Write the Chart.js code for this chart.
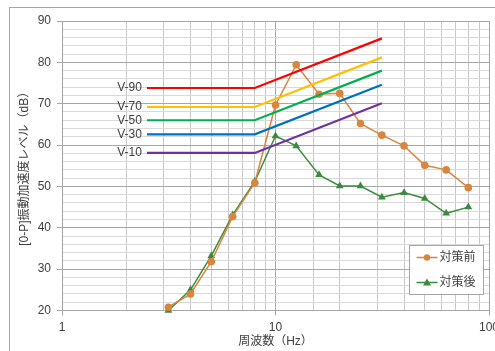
<!DOCTYPE html>
<html>
<head>
<meta charset="utf-8">
<script src="https://cdn.jsdelivr.net/npm/chart.js@4/dist/chart.umd.min.js"></script>
<style>
html, body { margin: 0; padding: 0; background: #fff; overflow: hidden; }
#wrap { position: relative; width: 495px; height: 351px; }
</style>
</head>
<body>
<div id="wrap"><canvas id="vibChart" width="495" height="351"></canvas></div>
<script>
// 1/3 octave band centre frequencies (Hz)
const freqs = [3.15, 4, 5, 6.3, 8, 10, 12.5, 16, 20, 25, 31.5, 40, 50, 63, 80];

// measured levels (dB)
const before = [20.8, 24.0, 31.8, 42.7, 50.9, 69.7, 79.4, 72.3, 72.5, 65.2, 62.4, 59.8, 55.1, 54.0, 49.7];
const after  = [20.0, 25.0, 33.2, 43.1, 51.2, 62.2, 59.8, 52.8, 50.1, 50.1, 47.4, 48.5, 47.1, 43.5, 45.0];

// evaluation curves: flat up to 8 Hz, then rising to 31.5 Hz
const curveFreqs = [2.5, 8, 31.5];
const curveNames = ["V-90", "V-70", "V-50", "V-30", "V-10"];
const curveLevels = [
  [73.8, 73.8, 85.8],
  [69.2, 69.2, 81.2],
  [66.0, 66.0, 78.0],
  [62.6, 62.6, 74.6],
  [58.1, 58.1, 70.1]
];
const curveColors = ["#ff0000", "#ffc000", "#00b050", "#0070c0", "#7030a0"];

const seriesNames = ["対策前", "対策後"];
const yTicks = [20, 30, 40, 50, 60, 70, 80, 90];
const xTicks = [1, 10, 100];

const FONT = "'Liberation Sans', 'Noto Sans CJK JP', sans-serif";
const ORANGE = "#d9843f";
const GREEN = "#3b8b3e";

const toPts = (xs, ys) => xs.map((x, i) => ({ x: x, y: ys[i] }));

const datasets = [];
curveNames.forEach((name, i) => {
  datasets.push({
    label: name,
    data: toPts(curveFreqs, curveLevels[i]),
    borderColor: curveColors[i],
    borderWidth: 2.2,
    pointRadius: 0,
    fill: false,
    tension: 0,
    isCurve: true
  });
});
datasets.push({
  label: seriesNames[0],
  data: toPts(freqs, before),
  borderColor: ORANGE,
  backgroundColor: ORANGE,
  borderWidth: 1.5,
  pointStyle: "circle",
  pointRadius: 3.8,
  pointBorderWidth: 0,
  clip: false
});
datasets.push({
  label: seriesNames[1],
  data: toPts(freqs, after),
  borderColor: GREEN,
  backgroundColor: GREEN,
  borderWidth: 1.5,
  pointStyle: "triangle",
  pointRadius: 4.5,
  pointBorderWidth: 0,
  clip: false
});

// frame, curve labels and the little legend box
const extras = {
  id: "extras",
  beforeDraw(chart) {
    const c = chart.ctx;
    c.save();
    c.strokeStyle = "#a6a6a6";
    c.lineWidth = 1;
    c.strokeRect(9.5, 7.5, 700, 500);
    c.restore();
  },
  afterDraw(chart) {
    const c = chart.ctx;
    const xs = chart.scales.x, ys = chart.scales.y;
    c.save();
    c.font = "12px " + FONT;
    c.fillStyle = "#404040";
    c.textAlign = "right";
    c.textBaseline = "middle";
    curveNames.forEach((name, i) => {
      c.fillText(name, xs.getPixelForValue(curveFreqs[0]) - 5, ys.getPixelForValue(curveLevels[i][0]));
    });

    // legend
    const bx = 409.5, by = 245.5, bw = 74, bh = 49;
    c.fillStyle = "#fff";
    c.fillRect(bx, by, bw, bh);
    c.strokeStyle = "#a6a6a6";
    c.strokeRect(bx, by, bw, bh);
    const items = [[seriesNames[0], ORANGE, "circle"], [seriesNames[1], GREEN, "triangle"]];
    items.forEach((it, k) => {
      const yy = by + 12 + k * 25;
      c.strokeStyle = it[1];
      c.lineWidth = 1.5;
      c.beginPath();
      c.moveTo(bx + 7, yy);
      c.lineTo(bx + 28, yy);
      c.stroke();
      c.fillStyle = it[1];
      c.beginPath();
      if (it[2] === "circle") {
        c.arc(bx + 17.5, yy, 3.2, 0, Math.PI * 2);
      } else {
        c.moveTo(bx + 17.5, yy - 4);
        c.lineTo(bx + 21.5, yy + 3);
        c.lineTo(bx + 13.5, yy + 3);
        c.closePath();
      }
      c.fill();
      c.fillStyle = "#404040";
      c.textAlign = "left";
      c.font = "12px " + FONT;
      c.fillText(it[0], bx + 30, yy);
    });
    c.restore();
  }
};

new Chart(document.getElementById("vibChart"), {
  type: "line",
  data: { datasets: datasets },
  options: {
    responsive: false,
    animation: false,
    layout: { padding: { left: 0, top: 21, right: 6, bottom: 0 } },
    plugins: {
      legend: { display: false },
      tooltip: { enabled: false }
    },
    scales: {
      x: {
        type: "logarithmic",
        min: 1,
        max: 100,
        border: { color: "#a6a6a6", width: 1 },
        grid: {
          color: ctx => (xTicks.includes(ctx.tick && ctx.tick.value) ? "#a6a6a6" : "#c8c8c8"),
          tickColor: ctx => (xTicks.includes(ctx.tick && ctx.tick.value) ? "#a6a6a6" : "rgba(0,0,0,0)"),
          tickLength: 5
        },
        ticks: {
          autoSkip: false,
          maxRotation: 0,
          padding: 5,
          color: "#404040",
          font: { family: FONT, size: 12 },
          callback: v => (xTicks.includes(v) ? String(v) : "")
        },
        title: {
          display: true,
          text: "周波数（Hz）",
          color: "#404040",
          font: { family: FONT, size: 12 },
          padding: { top: 0, bottom: 2 }
        },
        afterFit(s) { s.height = 40.5; s.paddingLeft = 0; s.paddingRight = 0; }
      },
      y: {
        min: 20,
        max: 90,
        border: { color: "#a6a6a6", width: 1 },
        grid: {
          color: ctx => (ctx.tick && ctx.tick.value % 10 === 0 ? "#a6a6a6" : "#d9d9d9"),
          tickColor: ctx => (ctx.tick && ctx.tick.value % 10 === 0 ? "#a6a6a6" : "rgba(0,0,0,0)"),
          tickLength: 5
        },
        ticks: {
          stepSize: 2,
          autoSkip: false,
          padding: 6,
          color: "#404040",
          font: { family: FONT, size: 12 },
          callback: v => (yTicks.includes(v) ? String(v) : "")
        },
        title: {
          display: true,
          text: "[0-P]振動加速度レベル（dB）",
          color: "#404040",
          font: { family: FONT, size: 12 },
          padding: { top: 17, bottom: 0 }
        },
        afterFit(s) { s.width = 62; s.paddingTop = 0; s.paddingBottom = 0; }
      }
    }
  },
  plugins: [extras]
});
</script>
</body>
</html>
